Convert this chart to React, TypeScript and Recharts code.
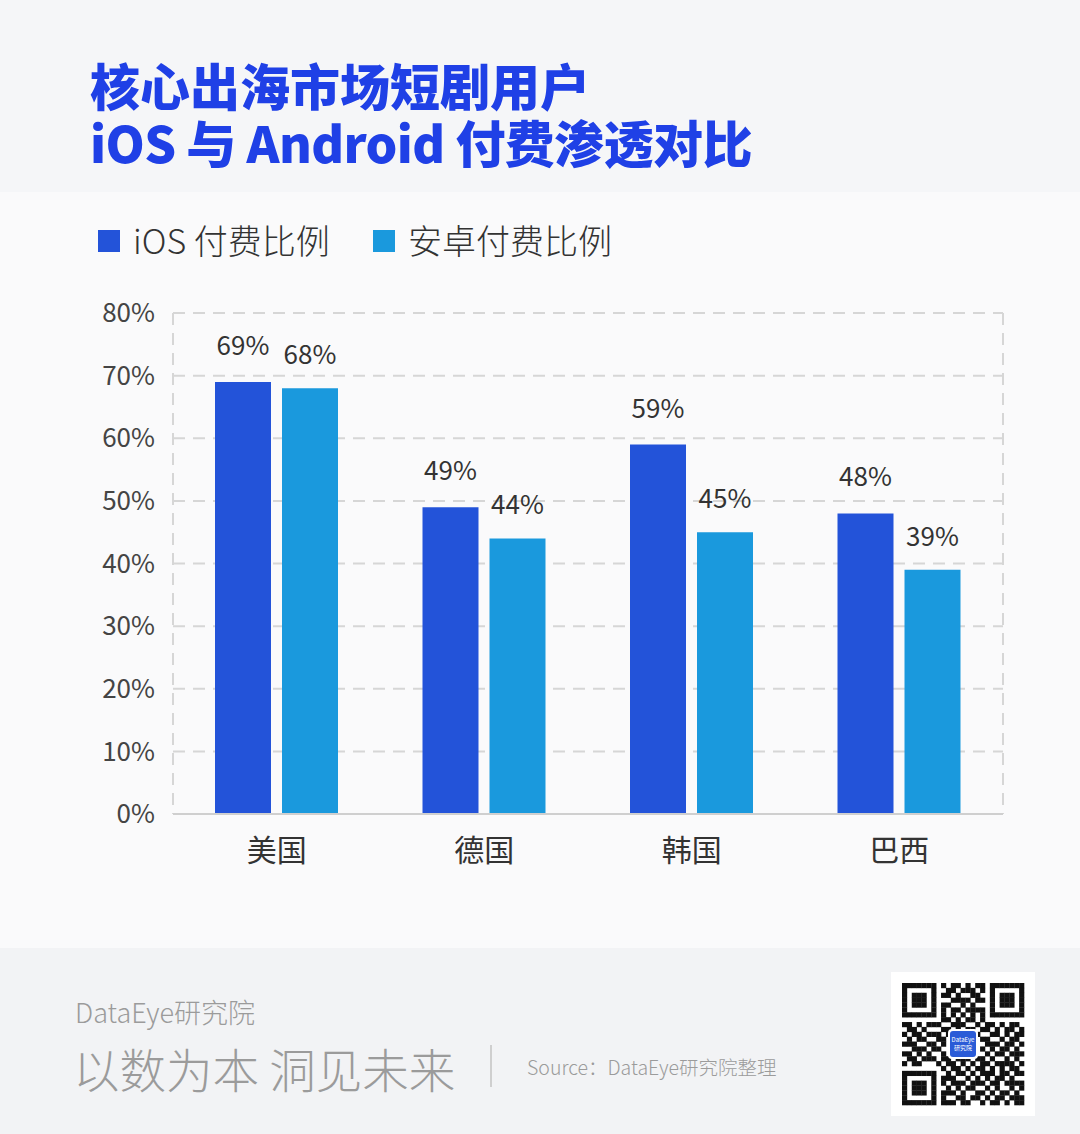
import React from "react";
import { BarChart, Bar, XAxis, YAxis, CartesianGrid, LabelList } from "recharts";

const categories = ["美国", "德国", "韩国", "巴西"];
const iosValues = [69, 49, 59, 48];
const androidValues = [68, 44, 45, 39];
const yTicks = [0, 10, 20, 30, 40, 50, 60, 70, 80];
const seriesNames = ["iOS 付费比例", "安卓付费比例"];

const IOS_COLOR = "#2353d9";
const ANDROID_COLOR = "#1a99dd";
const FONT = "'Noto Sans CJK SC', 'Noto Sans', sans-serif";

const data = categories.map((c, i) => ({ name: c, ios: iosValues[i], android: androidValues[i] }));

const qrRows = [
  "1111111010110101101111111",
  "1000001001101110101000001",
  "1011101011010011001011101",
  "1011101000111101101011101",
  "1011101011001010001011101",
  "1000001010110111101000001",
  "1111111010101010101111111",
  "0000000011010110100000000",
  "1101011100111001011010110",
  "0110100011010110110101101",
  "1011011101101011001101011",
  "0101100110000000110010110",
  "1110011010000000011101101",
  "0011101100000000101011010",
  "1101010010000000010110111",
  "0110111011011101101001010",
  "1011000101101010110111101",
  "0000000010110101101010110",
  "1111111001011010111011011",
  "1000001011100101010110100",
  "1011101010111011101101111",
  "1011101001010110010100101",
  "1011101011101001101011010",
  "1000001010011011010110111",
  "1111111011101100101101011",
];

const QR: React.FC = () => {
  const n = qrRows.length;
  const size = 122;
  const cell = size / n;
  return (
    <svg width={144} height={144} style={{ position: "absolute", left: 891, top: 972 }}>
      <rect x={0} y={0} width={144} height={144} fill="#ffffff" />
      <g transform="translate(11,11)">
        {qrRows.map((row, r) =>
          row.split("").map((ch, c) =>
            ch === "1" ? (
              <rect key={`${r}-${c}`} x={c * cell} y={r * cell} width={cell + 0.3} height={cell + 0.3} fill="#111" />
            ) : null
          )
        )}
        <rect x={46} y={46} width={30} height={30} rx={4} fill="#ffffff" />
        <rect x={48} y={48} width={26} height={26} rx={3} fill="#2a5bd7" />
        <text x={61} y={59} fontSize={6} fill="#fff" textAnchor="middle">DataEye</text>
        <text x={61} y={67} fontSize={6} fill="#fff" textAnchor="middle">研究院</text>
      </g>
    </svg>
  );
};

export default function App() {
  return (
    <div
      style={{
        position: "absolute",
        left: 0,
        top: 0,
        width: 1080,
        height: 1134,
        overflow: "hidden",
        background: "#fafafb",
        fontFamily: FONT,
      }}
    >
      {/* top band */}
      <div style={{ position: "absolute", left: 0, top: 0, width: 1080, height: 192, background: "#f5f6f8" }} />
      {/* footer band */}
      <div style={{ position: "absolute", left: 0, top: 948, width: 1080, height: 186, background: "#f2f3f5" }} />

      {/* title */}
      <div
        style={{
          position: "absolute",
          left: 90,
          top: 58,
          fontSize: 50,
          fontWeight: 900,
          lineHeight: "52px",
          color: "#1f40e6",
          whiteSpace: "nowrap",
        }}
      >
        核心出海市场短剧用户
      </div>
      <div
        style={{
          position: "absolute",
          left: 90,
          top: 115,
          fontSize: 50,
          fontWeight: 900,
          lineHeight: "52px",
          color: "#1f40e6",
          letterSpacing: -0.6,
          whiteSpace: "nowrap",
        }}
      >
        iOS 与 Android 付费渗透对比
      </div>

      {/* legend */}
      <div style={{ position: "absolute", left: 98, top: 230, width: 22, height: 22, background: IOS_COLOR }} />
      <div
        style={{ position: "absolute", left: 133, top: 216, fontSize: 34, fontWeight: 300, lineHeight: "48px", color: "#333" }}
      >
        {seriesNames[0]}
      </div>
      <div style={{ position: "absolute", left: 373, top: 230, width: 22, height: 22, background: ANDROID_COLOR }} />
      <div
        style={{ position: "absolute", left: 408, top: 216, fontSize: 34, fontWeight: 300, lineHeight: "48px", color: "#333" }}
      >
        {seriesNames[1]}
      </div>

      {/* chart */}
      <div style={{ position: "absolute", left: 0, top: 280 }}>
        <BarChart
          width={1080}
          height={620}
          data={data}
          margin={{ top: 33, right: 77, bottom: 0, left: 0 }}
          barSize={56}
          barGap={11}
        >
          <CartesianGrid
            stroke="#d6d6d6"
            strokeWidth={2}
            strokeDasharray="12 8"
            verticalCoordinatesGenerator={({ offset }: any) => [offset.left, offset.left + offset.width]}
          />
          <XAxis
            dataKey="name"
            height={86}
            tickLine={false}
            axisLine={{ stroke: "#cfcfcf", strokeWidth: 2 }}
            tick={{ fill: "#333", fontSize: 30 }}
            tickMargin={20}
          />
          <YAxis
            width={173}
            domain={[0, 80]}
            ticks={yTicks}
            interval={0}
            tickLine={false}
            axisLine={false}
            tickSize={0}
            tickMargin={18}
            tick={{ fill: "#444", fontSize: 26 }}
            tickFormatter={(v: number) => `${v}%`}
          />
          <Bar dataKey="ios" fill={IOS_COLOR} isAnimationActive={false}>
            <LabelList
              dataKey="ios"
              position="top"
              offset={27}
              fill="#333"
              fontSize={26}
              formatter={(v: any) => `${v}%`}
            />
          </Bar>
          <Bar dataKey="android" fill={ANDROID_COLOR} isAnimationActive={false}>
            <LabelList
              dataKey="android"
              position="top"
              offset={24}
              fill="#333"
              fontSize={26}
              formatter={(v: any) => `${v}%`}
            />
          </Bar>
        </BarChart>
      </div>

      {/* footer */}
      <div
        style={{ position: "absolute", left: 75, top: 993, fontSize: 27, fontWeight: 300, lineHeight: "38px", color: "#9b9b9b" }}
      >
        DataEye研究院
      </div>
      <div
        style={{ position: "absolute", left: 73, top: 1038, fontSize: 46.5, fontWeight: 300, lineHeight: "60px", color: "#9b9b9b" }}
      >
        以数为本 洞见未来
      </div>
      <div style={{ position: "absolute", left: 490, top: 1045, width: 2, height: 42, background: "#cfcfcf" }} />
      <div
        style={{ position: "absolute", left: 527, top: 1053, fontSize: 19.5, fontWeight: 300, lineHeight: "28px", color: "#9b9b9b" }}
      >
        Source：DataEye研究院整理
      </div>
      <QR />
    </div>
  );
}
